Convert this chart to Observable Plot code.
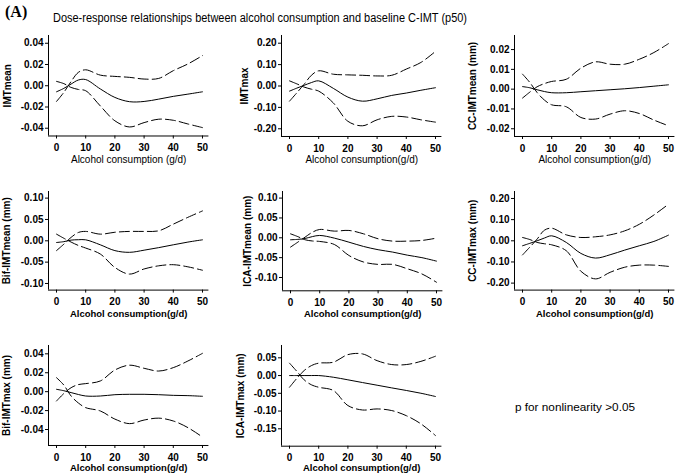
<!DOCTYPE html>
<html><head><meta charset="utf-8">
<script src="https://cdn.jsdelivr.net/npm/d3@7"></script>
<script src="https://cdn.jsdelivr.net/npm/@observablehq/plot@0.6"></script>
<style>
html,body{margin:0;padding:0;background:#fff;overflow:hidden;}
#root{position:relative;width:677px;height:474px;background:#fff;font-family:"Liberation Sans",Arial,sans-serif;}
.panel{position:absolute;}
</style></head><body><div id="root"></div>
<script>
// ---------- data ----------
const xs = [0, 2.5, 5, 7.5, 10, 15, 20, 25, 30, 35, 40, 45, 50];
const xTicks = [0, 10, 20, 30, 40, 50];

const imtMeanEst = [-0.0057,-0.0025,0.0016,0.0054,0.0058,-0.003,-0.011,-0.015,-0.0148,-0.0126,-0.010,-0.0079,-0.0057];
const imtMeanHi  = [-0.0148,-0.0063,0.004,0.0126,0.015,0.010,0.0088,0.0079,0.0063,0.0069,0.0142,0.0205,0.0284];
const imtMeanLo  = [0.0041,0.002,-0.0016,-0.0035,-0.0047,-0.019,-0.033,-0.0388,-0.0347,-0.0315,-0.0325,-0.036,-0.0394];

const imtMaxEst = [-0.024,-0.01,0.003,0.016,0.024,-0.011,-0.052,-0.071,-0.060,-0.044,-0.033,-0.020,-0.008];
const imtMaxHi  = [-0.071,-0.032,0.008,0.05,0.071,0.055,0.052,0.05,0.047,0.05,0.079,0.11,0.162];
const imtMaxLo  = [0.024,0.01,-0.005,-0.015,-0.024,-0.079,-0.165,-0.186,-0.158,-0.142,-0.145,-0.158,-0.169];

const ccMeanEst = [0.0013,0.0007,-0.0003,-0.0012,-0.0018,-0.0018,-0.0013,-0.0008,-0.0003,0.0002,0.0008,0.0015,0.0022];
const ccMeanHi  = [-0.0045,-0.0015,0.0012,0.0028,0.0039,0.005,0.0106,0.0138,0.0126,0.0126,0.0151,0.0185,0.023];
const ccMeanLo  = [0.0076,0.0034,-0.0017,-0.0055,-0.0079,-0.0089,-0.0143,-0.0151,-0.0126,-0.0109,-0.0123,-0.0156,-0.0185];

const bifMeanEst = [-0.004,-0.002,0.0016,0.0025,0.0023,-0.0094,-0.023,-0.027,-0.022,-0.016,-0.0094,-0.003,0.0023];
const bifMeanHi  = [-0.023,-0.008,0.008,0.0195,0.022,0.0156,0.020,0.022,0.022,0.0234,0.039,0.055,0.070];
const bifMeanLo  = [0.0156,0.006,-0.003,-0.011,-0.017,-0.031,-0.0625,-0.078,-0.066,-0.0586,-0.056,-0.061,-0.069];

const icaMeanEst = [-0.005,-0.004,-0.0017,0.003,0.0059,-0.0008,-0.011,-0.0218,-0.030,-0.036,-0.0437,-0.050,-0.0588];
const icaMeanHi  = [-0.0235,-0.011,0.0017,0.014,0.021,0.0168,0.0185,0.010,-0.0025,-0.0084,-0.0084,-0.0067,-0.0008];
const icaMeanLo  = [0.010,0.003,-0.005,-0.008,-0.0092,-0.0168,-0.0445,-0.061,-0.067,-0.067,-0.078,-0.091,-0.112];

const ccMaxEst = [-0.0235,-0.012,0,0.013,0.0235,-0.0078,-0.0596,-0.0816,-0.066,-0.044,-0.0235,-0.003,0.0267];
const ccMaxHi  = [-0.067,-0.03,0.008,0.05,0.0596,0.028,0.0157,0.019,0.028,0.047,0.078,0.122,0.173];
const ccMaxLo  = [0.0157,0.006,-0.0078,-0.014,-0.019,-0.047,-0.144,-0.180,-0.149,-0.125,-0.115,-0.115,-0.121];

const bifMaxEst = [0.0025,0.001,-0.001,-0.003,-0.0046,-0.0046,-0.0032,-0.0028,-0.0028,-0.0032,-0.0039,-0.0042,-0.0049];
const bifMaxHi  = [-0.0099,-0.002,0.0042,0.0075,0.0085,0.0113,0.0229,0.028,0.0247,0.0218,0.0254,0.0324,0.0405];
const bifMaxLo  = [0.0148,0.007,-0.0046,-0.012,-0.0169,-0.0204,-0.029,-0.0338,-0.030,-0.028,-0.031,-0.038,-0.048];

const icaMaxEst = [0,0,0,0,0,-0.0047,-0.012,-0.0197,-0.0272,-0.0347,-0.042,-0.0498,-0.059];
const icaMaxHi  = [-0.033,-0.008,0.014,0.028,0.035,0.0376,0.059,0.061,0.042,0.031,0.031,0.040,0.0545];
const icaMaxLo  = [0.035,0.012,-0.012,-0.026,-0.033,-0.042,-0.0845,-0.097,-0.094,-0.0986,-0.113,-0.136,-0.169];

const yLabels = ["IMTmean","IMTmax","CC-IMTmean (mm)","Bif-IMTmean (mm)","ICA-IMTmean (mm)","CC-IMTmax (mm)","Bif-IMTmax (mm)","ICA-IMTmax (mm)"];
const xTitles = ["Alcohol consumption (g/d)","Alcohol consumption(g/d)","Alcohol consumption(g/d)","Alcohol consumption(g/d)","Alcohol consumption(g/d)","Alcohol consumption(g/d)","Alcohol consumption(g/d)","Alcohol consumption(g/d)"];
const yTicks = [
  [-0.04,-0.02,0,0.02,0.04],
  [-0.2,-0.1,0,0.1,0.2],
  [-0.02,-0.01,0,0.01,0.02],
  [-0.1,-0.05,0,0.05,0.1],
  [-0.1,-0.05,0,0.05,0.1],
  [-0.2,-0.1,0,0.1,0.2],
  [-0.04,-0.02,0,0.02,0.04],
  [-0.15,-0.1,-0.05,0,0.05]
];
const yDomains = [
  [-0.0473,0.0473],
  [-0.236,0.236],
  [-0.0239,0.0271],
  [-0.1155,0.1155],
  [-0.1335,0.1166],
  [-0.233,0.233],
  [-0.0569,0.0488],
  [-0.199,0.0847]
];
const titleText = "Dose-response relationships between alcohol consumption and baseline C-IMT (p50)";
const noteText = "p for nonlinearity >0.05";

const series = [
  [imtMeanEst, imtMeanHi, imtMeanLo],
  [imtMaxEst, imtMaxHi, imtMaxLo],
  [ccMeanEst, ccMeanHi, ccMeanLo],
  [bifMeanEst, bifMeanHi, bifMeanLo],
  [icaMeanEst, icaMeanHi, icaMeanLo],
  [ccMaxEst, ccMaxHi, ccMaxLo],
  [bifMaxEst, bifMaxHi, bifMaxLo],
  [icaMaxEst, icaMaxHi, icaMaxLo]
];

// ---------- layout ----------
const geom = [ // y-axis line x, axis top, axis bottom, ylabel offset, xtitle offset, xtitle bold
  {ax:48,    top:35,    bottom:135.5, ylx:-41, xty:23.5,   bold:false},
  {ax:281,   top:35,    bottom:136,   ylx:-37, xty:23.5,   bold:false},
  {ax:514,   top:35,    bottom:136,   ylx:-42, xty:23.5,   bold:false},
  {ax:48,    top:190.7, bottom:289.3, ylx:-41.5, xty:23.5, bold:true},
  {ax:281.7, top:190.7, bottom:290,   ylx:-35, xty:23,   bold:true},
  {ax:514,   top:190.7, bottom:289.3, ylx:-42, xty:23.5, bold:true},
  {ax:48,    top:345,   bottom:445,   ylx:-41.5, xty:22.5, bold:true},
  {ax:281,   top:345,   bottom:445.7, ylx:-41, xty:22,   bold:true}
];
const xDomain = [-2.74, 52.2];
const PW = 2.92 * (xDomain[1] - xDomain[0]);
const ML = 50, MR = 2, MT = 8, MB = 30;
const fmt = v => v.toFixed(2);
const rows = arr => xs.map((x, i) => ({x, y: arr[i]}));

const root = document.getElementById("root");

geom.forEach((g, k) => {
  const [est, hi, lo] = series[k];
  const h = g.bottom - g.top;
  const chart = Plot.plot({
    width: ML + PW + MR,
    height: MT + h + MB,
    marginLeft: ML, marginRight: MR, marginTop: MT, marginBottom: MB,
    style: {fontFamily: "'Liberation Sans', Arial, sans-serif", fontSize: "10px", overflow: "visible", background: "transparent", color: "#000"},
    x: {domain: xDomain, axis: null},
    y: {domain: yDomains[k], axis: null},
    marks: [
      Plot.ruleX([xDomain[0]], {stroke: "#000", strokeWidth: 1}),
      Plot.ruleY([yDomains[k][0]], {stroke: "#000", strokeWidth: 1}),
      Plot.axisY({ticks: yTicks[k], tickFormat: fmt, tickSize: 3, tickPadding: 2, fontWeight: "bold", fontSize: 10, label: null, stroke: "#000"}),
      Plot.axisX({ticks: xTicks, tickFormat: d => String(d), tickSize: 3, tickPadding: 5, fontWeight: "bold", fontSize: 10, label: null, stroke: "#000"}),
      Plot.line(rows(hi), {x: "x", y: "y", curve: "catmull-rom", stroke: "#000", strokeWidth: 1, strokeDasharray: "10,4"}),
      Plot.line(rows(lo), {x: "x", y: "y", curve: "catmull-rom", stroke: "#000", strokeWidth: 1, strokeDasharray: "10,4"}),
      Plot.line(rows(est), {x: "x", y: "y", curve: "catmull-rom", stroke: "#000", strokeWidth: 1}),
      Plot.text([yLabels[k]], {text: d => d, frameAnchor: "left", rotate: -90, dx: g.ylx, fontWeight: "bold", fontSize: 10, textAnchor: "middle", lineAnchor: "middle", fill: "#000"}),
      Plot.text([xTitles[k]], {text: d => d, frameAnchor: "bottom", dy: g.xty, fontWeight: g.bold ? "bold" : "normal", fontSize: g.bold ? 9.5 : 10, lineAnchor: "middle", fill: "#000"})
    ]
  });
  chart.classList.add("panel");
  chart.style.left = (g.ax - ML) + "px";
  chart.style.top = (g.top - MT) + "px";
  root.appendChild(chart);
});

// title & note
const ns = "http://www.w3.org/2000/svg";
const tsvg = document.createElementNS(ns, "svg");
tsvg.setAttribute("width", 677); tsvg.setAttribute("height", 474);
tsvg.style.position = "absolute"; tsvg.style.left = "0"; tsvg.style.top = "0"; tsvg.style.pointerEvents = "none";
function addText(str, x, y, attrs) {
  const t = document.createElementNS(ns, "text");
  t.textContent = str;
  t.setAttribute("x", x); t.setAttribute("y", y);
  for (const k in attrs) t.setAttribute(k, attrs[k]);
  tsvg.appendChild(t);
}
addText("(A)", 5, 16.5, {"font-family": "'Liberation Serif', 'Times New Roman', serif", "font-weight": "bold", "font-size": 16});
addText(titleText, 53, 21.7, {"font-family": "'Liberation Sans', Arial, sans-serif", "font-size": 12.5, "textLength": 414, "lengthAdjust": "spacingAndGlyphs"});
addText(noteText, 515, 410.5, {"font-family": "'Liberation Sans', Arial, sans-serif", "font-size": 11, "textLength": 120, "lengthAdjust": "spacingAndGlyphs"});
root.appendChild(tsvg);
</script></body></html>
